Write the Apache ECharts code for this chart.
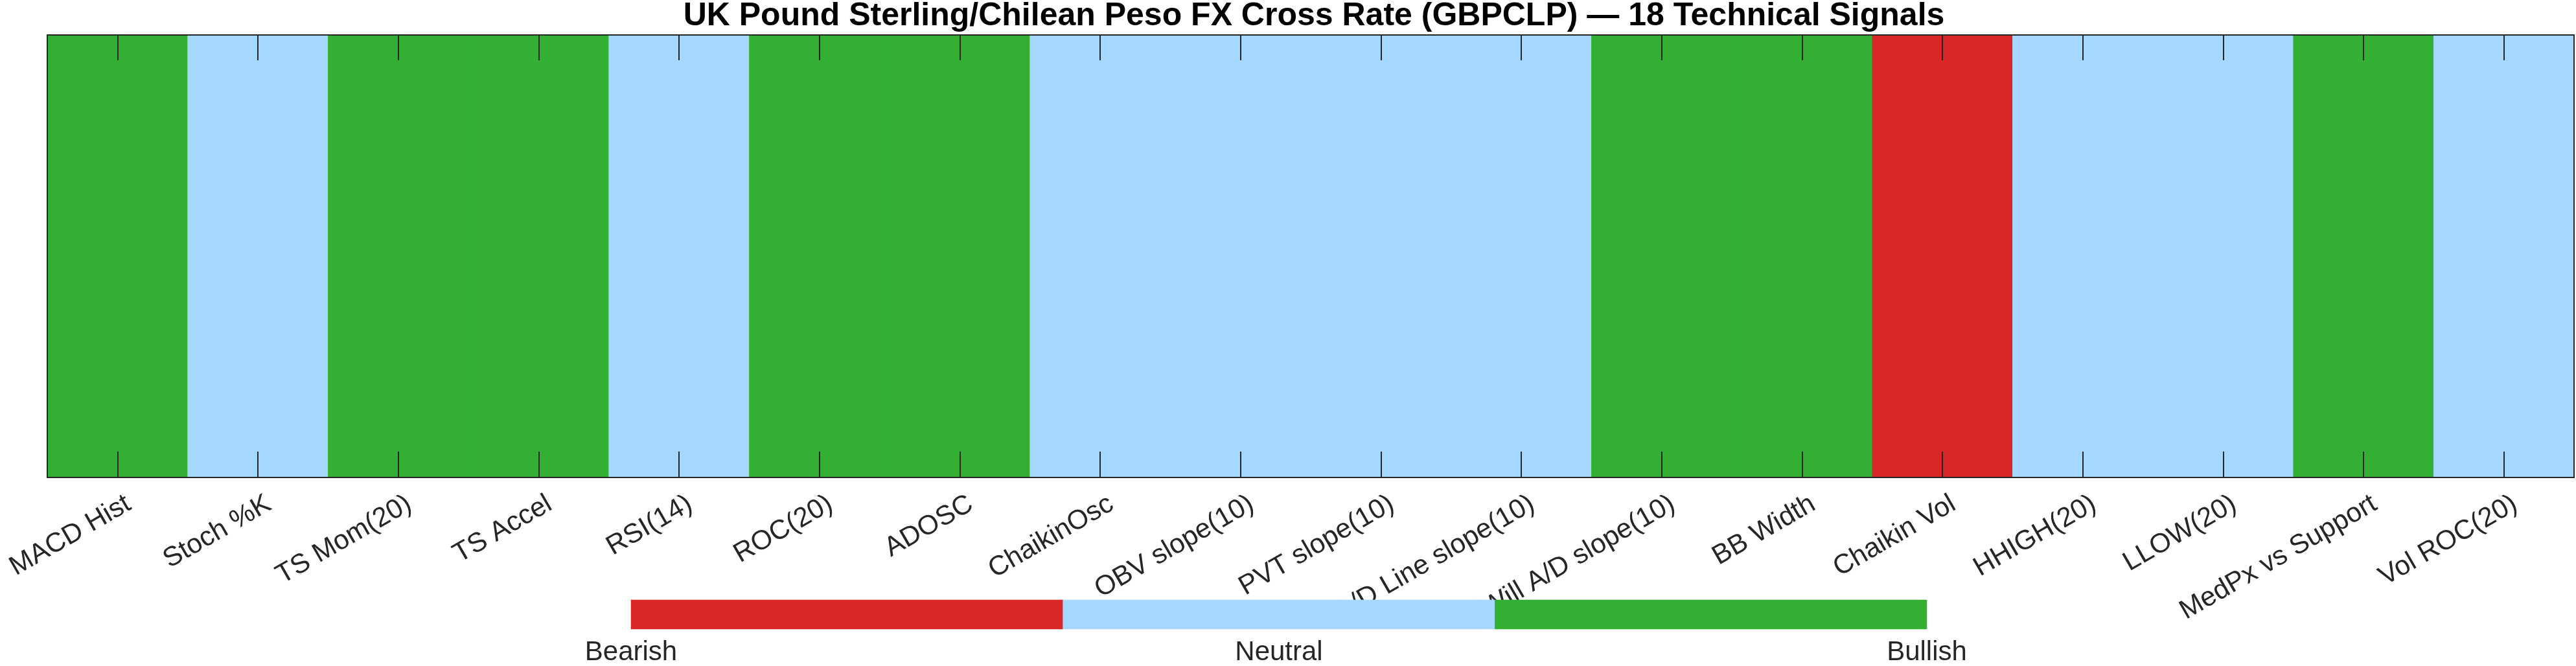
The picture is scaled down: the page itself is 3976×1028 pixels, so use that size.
<!DOCTYPE html>
<html>
<head>
<meta charset="utf-8">
<title>GBPCLP Technical Signals</title>
<script src="https://cdn.jsdelivr.net/npm/echarts@6/dist/echarts.min.js"></script>
<style>
  html, body { margin: 0; padding: 0; background: #fff; }
  #chart { width: 3976px; height: 1028px; }
</style>
</head>
<body>
<div id="chart"></div>
<script>
const chartTitle = 'UK Pound Sterling/Chilean Peso FX Cross Rate (GBPCLP) \u2014 18 Technical Signals'

// signal names, left to right
const signalNames = [
  'MACD Hist', 'Stoch %K', 'TS Mom(20)', 'TS Accel', 'RSI(14)', 'ROC(20)',
  'ADOSC', 'ChaikinOsc', 'OBV slope(10)', 'PVT slope(10)', 'A/D Line slope(10)',
  'Will A/D slope(10)', 'BB Width', 'Chaikin Vol', 'HHIGH(20)', 'LLOW(20)',
  'MedPx vs Support', 'Vol ROC(20)'
]
// -1 bearish, 0 neutral, 1 bullish
const signalValues = [1, 0, 1, 1, 0, 1, 1, 0, 0, 0, 0, 1, 1, -1, 0, 0, 1, 0]

// colorbar
const cbarLevels = [-1, 0, 1]
const cbarTickLabels = ['Bearish', 'Neutral', 'Bullish']
const levelColors = ['#D92626', '#A6D8FF', '#33B033']

const fontFamily = '"Liberation Sans", Arial, Helvetica, sans-serif'
const axisColor = '#262626'

const chart = echarts.init(document.getElementById('chart'), null, { renderer: 'canvas' })

// axes sit on their own layer so the inward ticks stay above the cells
const frameAxis = (pos) => ({
  type: 'category',
  gridIndex: 0,
  data: pos === 'left' || pos === 'right' ? [''] : signalNames,
  position: pos,
  zlevel: 1,
  z: 10,
  axisLine: { lineStyle: { color: axisColor, width: 2 } },
  axisTick: { show: false },
  axisLabel: { show: false }
})

chart.setOption({
  animation: false,
  backgroundColor: '#fff',
  title: {
    text: chartTitle,
    left: 2023,
    top: -5,
    textAlign: 'center',
    textStyle: { fontFamily: fontFamily, fontSize: 50, fontWeight: 'bold', color: '#000' }
  },
  grid: [
    { left: 73, top: 54, width: 3900, height: 683 },
    { left: 974, top: 926, width: 2000, height: 47 }
  ],
  visualMap: {
    type: 'piecewise',
    show: false,
    dimension: 2,
    seriesIndex: [0, 1],
    pieces: cbarLevels.map((v, i) => ({ value: v, color: levelColors[i] }))
  },
  xAxis: [
    Object.assign(frameAxis('bottom'), {
      axisTick: { show: true, inside: true, length: 40, alignWithLabel: true, lineStyle: { color: axisColor, width: 2 } },
      axisLabel: {
        show: true,
        interval: 0,
        rotate: 30,
        margin: 48,
        padding: [0, -20, 0, 0],
        fontFamily: fontFamily,
        fontSize: 42,
        color: axisColor
      }
    }),
    Object.assign(frameAxis('top'), {
      axisTick: { show: true, inside: true, length: 39, alignWithLabel: true, lineStyle: { color: axisColor, width: 2 } }
    }),
    {
      type: 'category',
      gridIndex: 1,
      data: cbarTickLabels,
      show: false
    },
    {
      type: 'value',
      gridIndex: 1,
      min: -1,
      max: 1,
      interval: 1,
      position: 'bottom',
      zlevel: 1,
      z: 25,
      splitLine: { show: false },
      axisLine: { lineStyle: { color: axisColor, width: 2 } },
      axisTick: { inside: true, length: 21, lineStyle: { color: axisColor, width: 2 } },
      axisLabel: {
        margin: 15,
        fontFamily: fontFamily,
        fontSize: 42,
        color: axisColor,
        formatter: (v) => cbarTickLabels[cbarLevels.indexOf(v)]
      }
    }
  ],
  yAxis: [
    frameAxis('left'),
    frameAxis('right'),
    {
      type: 'category',
      gridIndex: 1,
      data: [''],
      show: false
    }
  ],
  // the colorbar box hides the long tick labels running under it
  graphic: [{
    type: 'rect',
    zlevel: 1,
    z: 15,
    shape: { x: 974, y: 926, width: 2000, height: 102 },
    style: { fill: '#fff' },
    silent: true
  }],
  series: [
    {
      type: 'heatmap',
      xAxisIndex: 0,
      yAxisIndex: 0,
      z: 1,
      data: signalValues.map((v, i) => [i, 0, v])
    },
    {
      type: 'heatmap',
      xAxisIndex: 2,
      yAxisIndex: 2,
      zlevel: 1,
      z: 20,
      data: cbarLevels.map((v, i) => [i, 0, v])
    }
  ]
})
</script>
</body>
</html>
